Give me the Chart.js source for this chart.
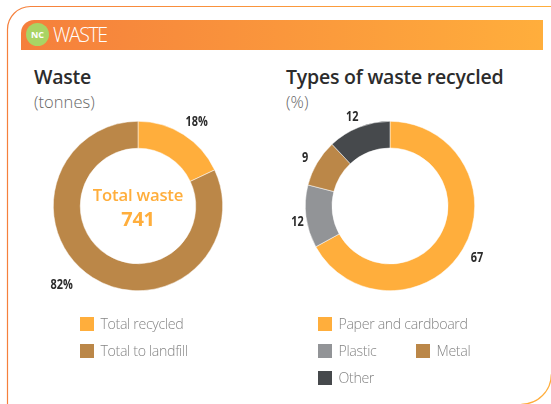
<!DOCTYPE html>
<html><head><meta charset="utf-8">
<style>
html,body{margin:0;padding:0;background:#fff;width:551px;height:404px;overflow:hidden;font-family:"Open Sans",sans-serif}
.abs{position:absolute;white-space:nowrap}
#bar{left:21px;top:20px;width:522px;height:30px;background:linear-gradient(90deg,#f57f3c,#ffae3c);border-top-left-radius:13px}
#nc{left:26px;top:23px;width:23px;height:23px;border-radius:50%;background:#a9d464;color:#fff;font:bold 9px/23px "Open Sans",sans-serif;text-align:center}
#hd{left:53px;top:21px;color:#fff;font:300 19.5px/27px "Open Sans",sans-serif;letter-spacing:-1.4px}
.t{color:#2c2c2c;font:600 19.5px/24px "Open Sans",sans-serif;letter-spacing:-.22px}
.s{color:#666;font:300 16.5px/20px "Open Sans",sans-serif;letter-spacing:.05px}
.k{width:14px;height:14px}
.l{color:#858585;font:300 14.2px/18px "Open Sans",sans-serif;letter-spacing:-.35px}
canvas{display:block}
.c{position:absolute;width:276px;height:232px}
#mid{left:68px;top:183px;width:140px;text-align:center;color:#ffae3c;font:600 16.7px/24px "Open Sans",sans-serif;letter-spacing:-.2px}
#mid b{display:block;font-size:20px;line-height:24px;font-weight:700}
</style></head><body>
<svg class="abs" style="left:0;top:0" width="551" height="404">
<defs><linearGradient id="g" gradientUnits="userSpaceOnUse" x1="0" x2="551" y1="0" y2="0"><stop offset="0" stop-color="#f57f3c"/><stop offset="1" stop-color="#ffae3c"/></linearGradient></defs>
<path d="M7.5,410 V29.5 A23,23 0 0 1 30.5,6.5 H560 M551.3,374.3 A30,30 0 0 1 521.3,404.3" fill="none" stroke="url(#g)" stroke-width="1.2"/>
</svg>
<div class="abs" id="bar"></div><div class="abs" id="nc">NC</div><div class="abs" id="hd">WASTE</div>
<div class="abs t" style="left:34px;top:65px">Waste</div><div class="abs s" style="left:34px;top:92px">(tonnes)</div>
<div class="abs t" style="left:286px;top:65px">Types of waste recycled</div><div class="abs s" style="left:286px;top:92px">(%)</div>
<div class="c" style="left:0;top:90px"><canvas id="c1" width="276" height="232"></canvas></div>
<div class="c" style="left:252px;top:90px"><canvas id="c2" width="276" height="232"></canvas></div>
<div class="abs" id="mid">Total waste<b>741</b></div>
<div id="legends"></div>
<script src="https://cdn.jsdelivr.net/npm/chart.js@4"></script>
<script>
const wasteCategories=["Total recycled","Total to landfill"];
const wasteValues=[18,82];
const wasteLabels=["18%","82%"];
const wasteColors=["#ffae3c","#bb8748"];
const typeCategories=["Paper and cardboard","Plastic","Metal","Other"];
const typeValues=[67,12,9,12];
const typeLabels=["67","12","9","12"];
const typeColors=["#ffae3c","#929497","#bb8748","#46494c"];

const labelPlugin={id:"sliceLabels",afterDatasetsDraw(chart,args,opts){
  const ctx=chart.ctx,meta=chart.getDatasetMeta(0);
  ctx.save();
  ctx.fillStyle="#2c2c2c";ctx.textAlign="center";ctx.textBaseline="middle";
  meta.data.forEach((a,i)=>{
    const ang=(a.startAngle+a.endAngle)/2,r=a.outerRadius;
    const x=a.x+Math.cos(ang)*r+opts.shift[i][0],y=a.y+Math.sin(ang)*r+opts.shift[i][1];
    ctx.save();ctx.translate(x,y);ctx.scale(.78,1);
    ctx.font='700 14px "Open Sans",sans-serif';
    ctx.fillText(opts.texts[i],0,0);ctx.restore();
  });
  ctx.restore();
}};
function donut(id,labels,data,colors,cut,texts,shift){
  new Chart(document.getElementById(id),{type:"doughnut",
    data:{labels,datasets:[{data,backgroundColor:colors,borderColor:"#fff",borderWidth:.5}]},
    options:{responsive:false,animation:false,cutout:cut,radius:84.7,
      layout:{padding:0},
      plugins:{legend:{display:false},tooltip:{enabled:false},sliceLabels:{texts,shift}}},
    plugins:[labelPlugin]});
}
donut("c1",wasteCategories,wasteValues,wasteColors,"68.2%",wasteLabels,[[13.2,-12.6],[-31,7.6]]);
donut("c2",typeCategories,typeValues,typeColors,"68.5%",typeLabels,[[14,8.7],[-8.5,5.7],[-12,-5.3],[-6.6,-10.4]]);

const legendPos=[[80,317,wasteCategories[0],wasteColors[0]],[80,344,wasteCategories[1],wasteColors[1]],
 [318,317,typeCategories[0],typeColors[0]],[318,344,typeCategories[1],typeColors[1]],[416,344,typeCategories[2],typeColors[2]],[318,371,typeCategories[3],typeColors[3]]];
const L=document.getElementById("legends");
legendPos.forEach(([x,y,t,c])=>{
  L.insertAdjacentHTML("beforeend",`<div class="abs k" style="left:${x}px;top:${y}px;background:${c}"></div><div class="abs l" style="left:${x+20.5}px;top:${y-2}px">${t}</div>`);
});
</script>
</body></html>
